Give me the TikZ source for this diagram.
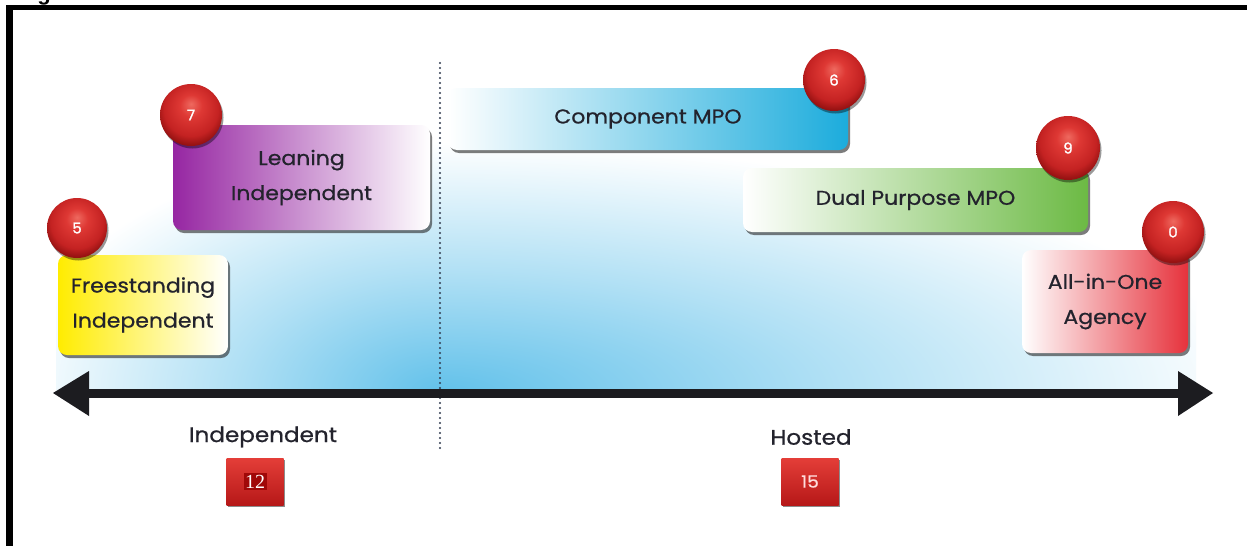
\documentclass[tikz,border=0pt]{standalone}
\usepackage{fontspec}
\setmainfont{Poppins}
\newfontfamily\gothic{Poppins}[FakeStretch=1.1, FakeBold=0.7]
\newfontfamily\balldig{Poppins}[FakeBold=1.2]
\newfontfamily\serifnum{Liberation Serif}
\newfontfamily\gfont{Liberation Sans}
\usetikzlibrary{shadows,shapes.geometric}
\definecolor{bgblue}{RGB}{98,193,234}
\definecolor{ylw}{RGB}{255,236,0}
\definecolor{purp}{RGB}{150,38,162}
\definecolor{cyanb}{RGB}{28,172,220}
\definecolor{grn}{RGB}{108,186,68}
\definecolor{redb}{RGB}{230,50,60}
\definecolor{ballhi}{RGB}{238,105,95}
\definecolor{ballmid}{RGB}{222,56,52}
\definecolor{ballrim}{RGB}{196,34,34}
\definecolor{balledge}{RGB}{150,18,18}
\definecolor{txt}{RGB}{35,35,45}
\definecolor{arrowblk}{RGB}{28,28,32}
\definecolor{dotc}{RGB}{50,60,80}
\definecolor{sqtop}{RGB}{228,62,56}
\definecolor{sqbot}{RGB}{182,24,24}
\definecolor{sqdark}{RGB}{160,8,8}
\pgfdeclareradialshading{redball}{\pgfpoint{0bp}{9bp}}{%
  color(0bp)=(ballhi); color(9bp)=(ballmid); color(22bp)=(ballrim);
  color(28bp)=(balledge); color(50bp)=(balledge)}
\pgfdeclareradialshading{glow}{\pgfpoint{0bp}{0bp}}{%
  color(0bp)=(bgblue); color(12bp)=(bgblue!50!white);
  color(25bp)=(white); color(50bp)=(white)}
\begin{document}
\begin{tikzpicture}[x=1pt,y=-1pt,
  catbox/.style={rounded corners=9pt, text=txt, font=\gothic\fontsize{20}{35}\selectfont,
    align=center, inner sep=0pt,
    drop shadow={shadow xshift=2pt,shadow yshift=-3pt,opacity=0.6,fill=black!85}},
  numball/.style={circle, minimum size=#1, inner sep=0pt, shading=redball,
    text=white, font=\balldig\fontsize{15}{15}\selectfont,
    drop shadow={shadow xshift=1.5pt,shadow yshift=-2.5pt,opacity=0.4,fill=black}},
  sqbox/.style={minimum width=57pt, minimum height=47pt, inner sep=0pt,
    top color=sqtop, bottom color=sqbot,
    drop shadow={shadow xshift=1.5pt,shadow yshift=-2pt,opacity=0.45,fill=black}},
  axislabel/.style={text=txt, font=\gothic\fontsize{21}{21}\selectfont, inner sep=0pt}
]
\useasboundingbox (0,0) rectangle (1247,546);
\fill[white] (0,0) rectangle (1247,546);

% background glow, left part
\begin{scope}
  \clip (56,55) rectangle (440,391);
  \shade[shading=glow] (440,392) ellipse [x radius=430, y radius=250];
\end{scope}
% background glow, right part
\begin{scope}
  \clip (440,55) rectangle (1196,391);
  \shade[shading=glow] (440,392) ellipse [x radius=820, y radius=250];
\end{scope}

% dotted divider
\coordinate (dtop) at (440,63);
\coordinate (dbot) at (440,449);
\draw[dotc, line width=2.2pt, line cap=round, dash pattern=on 0pt off 5pt] (dtop) -- (dbot);

% main axis arrow
\coordinate (ltip) at (53,393);
\coordinate (rtip) at (1213,393);
\coordinate (lback) at (89,393);
\coordinate (rback) at (1178,393);
\draw[arrowblk, line width=9pt] (lback) -- (rback);
\fill[arrowblk] (ltip) -- (89,371) -- (89,416) -- cycle;
\fill[arrowblk] (rtip) -- (1178,371) -- (1178,416) -- cycle;

% category boxes
\node[catbox, left color=ylw, right color=white, minimum width=170pt, minimum height=100pt]
  (free) at (143,305) {Freestanding\\Independent};
\node[catbox, left color=purp, right color=white, minimum width=257pt, minimum height=105pt]
  (lean) at (301.5,177.5) {Leaning\\Independent};
\node[catbox, left color=white, right color=cyanb, minimum width=400pt, minimum height=62pt]
  (comp) at (648,119) {Component MPO};
\node[catbox, left color=white, right color=grn, minimum width=345pt, minimum height=64pt]
  (dual) at (915.5,200) {Dual Purpose MPO};
\node[catbox, left color=white, right color=redb, minimum width=166pt, minimum height=103pt]
  (allin) at (1105,301.5) {All-in-One\\Agency};

% number balls
\node[numball=60pt] (b5) at (77,228) {5};
\node[numball=62pt] (b7) at (191,115) {7};
\node[numball=62pt] (b6) at (834,80) {6};
\node[numball=64pt] (b9) at (1068,148) {9};
\node[numball=62pt] (b0) at (1173,232) {0};

% axis labels
\node[axislabel] (lind) at (263,437) {Independent};
\node[axislabel] (lhost) at (811,437) {Hosted};

\node[sqbox] (sq12) at (255,481.5) {};
\node[fill=sqdark, text=white, font=\serifnum\fontsize{20}{20}\selectfont, inner sep=1.5pt] (n12) at (sq12) {12};
\node[sqbox] (sq15) at (810,481.5) {};
\node[text={rgb,255:red,255;green,222;blue,222}, font=\gothic\fontsize{17}{17}\selectfont, inner sep=0pt] (n15) at (sq15) {15};

% frame
\node[anchor=base, font=\gfont\bfseries\fontsize{22}{22}\selectfont, inner sep=0pt] (gfrag) at (44,0) {g};
\fill[black] (6,5) rectangle (1247,10);
\fill[black] (6,5) rectangle (13,546);
\end{tikzpicture}
\end{document}
